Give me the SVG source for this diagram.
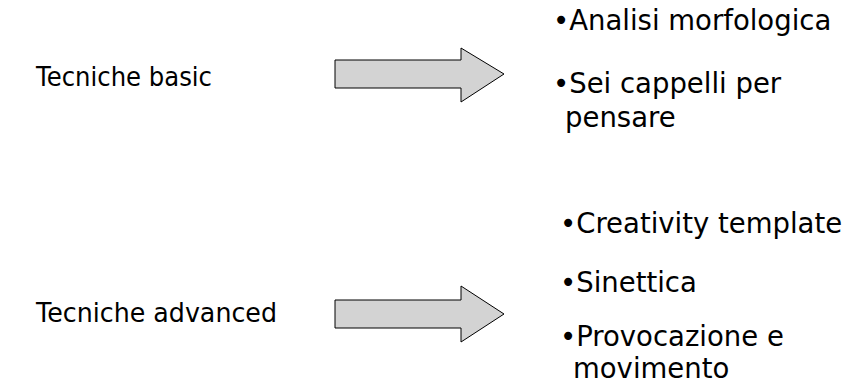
<svg xmlns="http://www.w3.org/2000/svg" width="847" height="390" viewBox="0 0 847 390">
  <style>
    .lbl { font-family: "DejaVu Sans", Verdana, sans-serif; font-size: 26px; fill: #000; }
    .item { font-family: "DejaVu Sans", Verdana, sans-serif; font-size: 27.5px; fill: #000; }
    .arrow { fill: #d3d3d3; stroke: #000; stroke-width: 1; stroke-linejoin: miter; }
  </style>
  <rect width="847" height="390" fill="#fff"/>
  <g id="basic">
    <text class="lbl" x="36" y="86" textLength="176" lengthAdjust="spacingAndGlyphs">Tecniche basic</text>
  </g>
  <g id="basic-list">
    <text class="item" x="553" y="30">•Analisi morfologica</text>
    <text class="item" x="553" y="93">•Sei cappelli per</text>
    <text class="item" x="565" y="127">pensare</text>
  </g>
  <g id="advanced">
    <text class="lbl" x="36" y="322" textLength="241" lengthAdjust="spacingAndGlyphs">Tecniche advanced</text>
  </g>
  <g id="advanced-list">
    <text class="item" x="560" y="233">•Creativity template</text>
    <text class="item" x="560" y="292">•Sinettica</text>
    <text class="item" x="560" y="346">•Provocazione e</text>
    <text class="item" x="573" y="378">movimento</text>
  </g>
  <g id="connectors">
    <polygon class="arrow" points="335,60 461,60 461,48 504,74 461,102 461,88 335,88"/>
    <polygon class="arrow" points="335,300 461,300 461,286 504,314 461,342 461,328 335,328"/>
  </g>
</svg>
